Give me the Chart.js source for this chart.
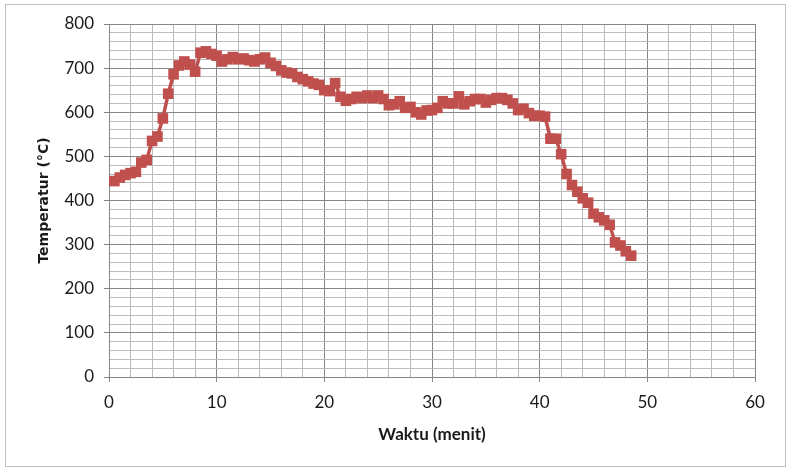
<!DOCTYPE html>
<html>
<head>
<meta charset="utf-8">
<script src="https://cdn.jsdelivr.net/npm/chart.js@4"></script>
<style>
  body { margin: 0; background: #fff; }
  #wrap { position: relative; width: 790px; height: 472px; }
</style>
</head>
<body>
<div id="wrap"><canvas id="suhu" width="790" height="472"></canvas></div>
<script>
// waktu (menit) dan temperatur (°C)
let waktu = [0.5, 1, 1.5, 2, 2.5, 3, 3.5, 4, 4.5, 5, 5.5, 6, 6.5, 7, 7.5, 8, 8.5, 9, 9.5, 10,
  10.5, 11, 11.5, 12, 12.5, 13, 13.5, 14, 14.5, 15, 15.5, 16, 16.5, 17, 17.5, 18, 18.5, 19, 19.5, 20,
  20.5, 21, 21.5, 22, 22.5, 23, 23.5, 24, 24.5, 25, 25.5, 26, 26.5, 27, 27.5, 28, 28.5, 29, 29.5, 30,
  30.5, 31, 31.5, 32, 32.5, 33, 33.5, 34, 34.5, 35, 35.5, 36, 36.5, 37, 37.5, 38, 38.5, 39, 39.5, 40,
  40.5, 41, 41.5, 42, 42.5, 43, 43.5, 44, 44.5, 45, 45.5, 46, 46.5, 47, 47.5, 48, 48.5]
let temperatur = [444, 452, 458, 462, 465, 486, 492, 535, 545, 586, 642, 686, 706, 715, 708, 692, 735, 738, 732, 728,
  715, 720, 725, 720, 722, 718, 715, 720, 724, 712, 705, 695, 690, 688, 680, 675, 670, 665, 662, 650,
  648, 666, 635, 626, 630, 635, 632, 638, 632, 638, 630, 616, 618, 625, 610, 612, 600, 595, 604, 605,
  610, 625, 620, 620, 636, 618, 625, 630, 630, 622, 628, 632, 632, 628, 620, 605, 608, 598, 592, 592,
  590, 540, 540, 505, 460, 435, 420, 405, 395, 370, 362, 355, 345, 305, 298, 285, 275]

let titikData = waktu.map((w, i) => ({ x: w, y: temperatur[i] }))

const bingkai = {
  id: 'bingkai',
  beforeDraw(chart) {
    let ctx = chart.ctx
    ctx.save()
    ctx.strokeStyle = '#c0c0c0'
    ctx.lineWidth = 1
    ctx.strokeRect(5.5, 4.5, 780, 462)
    ctx.restore()
  }
}

let warnaGaris = (major) => (ctx) => {
  if (ctx.tick && ctx.tick.value % major === 0) return '#868686'
  return '#bcbcbc'
}

new Chart(document.getElementById('suhu').getContext('2d'), {
  type: 'line',
  data: {
    datasets: [{
      data: titikData,
      borderColor: '#c0504d',
      backgroundColor: '#c0504d',
      borderWidth: 3.5,
      pointStyle: 'rect',
      pointRadius: 7.5,
      pointBorderWidth: 0,
      pointBackgroundColor: '#c0504d',
      tension: 0
    }]
  },
  plugins: [bingkai],
  options: {
    responsive: false,
    animation: false,
    layout: { padding: { top: 24, right: 35, left: 0, bottom: 0 } },
    plugins: {
      legend: { display: false },
      tooltip: { enabled: false }
    },
    scales: {
      x: {
        type: 'linear',
        min: 0,
        max: 60,
        afterFit: (s) => { s.height = 95 },
        ticks: {
          stepSize: 2,
          autoSkip: false,
          maxRotation: 0,
          padding: 10,
          color: '#1a1a1a',
          font: { family: 'Lato', size: 17 },
          callback: (v) => v % 10 === 0 ? v : ''
        },
        grid: {
          color: warnaGaris(10),
          tickColor: (ctx) => ctx.tick && ctx.tick.value % 10 === 0 ? '#868686' : 'rgba(0,0,0,0)',
          tickLength: 5,
          lineWidth: 1
        },
        border: { color: '#868686' },
        title: {
          display: true,
          text: 'Waktu (menit)',
          color: '#1a1a1a',
          font: { family: 'Lato', size: 17, weight: 'bold' },
          padding: { top: 4, bottom: 27 }
        }
      },
      y: {
        min: 0,
        max: 800,
        afterFit: (s) => { s.width = 109 },
        ticks: {
          stepSize: 20,
          autoSkip: false,
          padding: 10,
          color: '#1a1a1a',
          font: { family: 'Lato', size: 17 },
          callback: (v) => v % 100 === 0 ? v : ''
        },
        grid: {
          color: warnaGaris(100),
          tickColor: (ctx) => ctx.tick && ctx.tick.value % 100 === 0 ? '#868686' : 'rgba(0,0,0,0)',
          tickLength: 5,
          lineWidth: 1
        },
        border: { color: '#868686' },
        title: {
          display: true,
          text: 'Temperatur (°C)',
          color: '#1a1a1a',
          font: { family: 'DejaVu Sans', size: 14, weight: 'bold' },
          padding: { top: 36, bottom: 0 }
        }
      }
    }
  }
})
</script>
</body>
</html>
